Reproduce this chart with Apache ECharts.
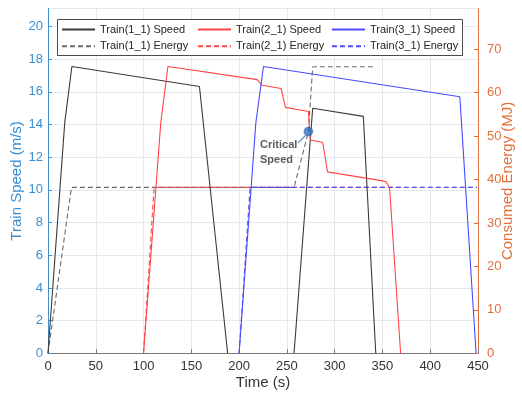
<!DOCTYPE html>
<html>
<head>
<meta charset="utf-8">
<script src="https://cdn.jsdelivr.net/npm/echarts@6/dist/echarts.min.js"></script>
<style>
  html, body { margin: 0; padding: 0; background: #fff; }
  #chart { width: 522px; height: 395px; }
</style>
</head>
<body>
<div id="chart"></div>
<script>
// Speed profiles [time (s), speed (m/s)]
const train1SpeedTrip1 = [[0, 0], [17.5, 14.1], [25, 17.55], [158.5, 16.33], [188, 0]];
const train1SpeedTrip2 = [[257.5, 0], [277, 15.0], [330, 14.5], [343, 0]];
const train2Speed = [[100, 0], [118, 14.1], [125.5, 17.55], [219, 16.75], [224, 16.4], [244, 16.2],
  [248.5, 15.05], [272.5, 14.8], [274.5, 13.05], [287.5, 12.9], [292.5, 11.1], [350.5, 10.55],
  [354, 10.5], [357.5, 10.1], [369, 0]];
const train3Speed = [[200, 0], [217.5, 14.1], [225.5, 17.55], [431, 15.7], [448, 0]];

// Cumulative energy [time (s), energy (MJ)]
const train1Energy = [[0, 0], [24.5, 38.2], [257.5, 38.2], [272.5, 51.0], [277, 66.0], [343, 66.0]];
const train2Energy = [[100, 0], [111, 38.2], [369, 38.2]];
const train3Energy = [[200, 0], [211.5, 38.2], [449, 38.2]];

// Annotated point on the speed axis
const criticalPoint = [[272.5, 13.57]];
const criticalArrow = [[261.5, 12.88], [270, 13.36]];
const criticalLabelAnchor = [[222.4, 13.18]];
const criticalLabelText = 'Critical\nSpeed';

// Axis ranges
const timeRange = [0, 450];
const speedRange = [0, 21.1];
const energyRange = [0, 79.4];

const FONT = '"Liberation Sans", Arial, sans-serif';
const BLUE_AXIS = '#3a8fd3';
const ORANGE_AXIS = '#e0703c';
const C_BLACK = '#3a3a3a';
const C_GRAY = '#6a6a6a';
const C_RED = '#ff4545';
const C_BLUE = '#4a4aff';

const seriesNames = ['Train(1_1) Speed', 'Train(2_1) Speed', 'Train(3_1) Speed',
                     'Train(1_1) Energy', 'Train(2_1) Energy', 'Train(3_1) Energy'];

function lineSeries(name, data, color, yIdx, dashed) {
  return {
    name: name, type: 'line', data: data, yAxisIndex: yIdx,
    symbol: 'none', showSymbol: false, animation: false,
    lineStyle: { color: color, width: 1.1, type: dashed ? [5, 3] : 'solid' },
    itemStyle: { color: color },
    z: 2
  };
}

const legendCols = [61, 197, 331];
const legendRows = [24, 40.7];
const legends = seriesNames.map((n, i) => ({
  data: [n],
  left: legendCols[i % 3],
  top: legendRows[Math.floor(i / 3)],
  padding: 0,
  itemWidth: 33,
  itemHeight: 14,
  selectedMode: false,
  itemStyle: { opacity: 0 },
  textStyle: { fontFamily: FONT, fontSize: 11, color: '#262626' },
  z: 6
}));

const chart = echarts.init(document.getElementById('chart'), null, { renderer: 'canvas' });

chart.setOption({
  animation: false,
  backgroundColor: '#fff',
  grid: { left: 48, right: 44, top: 8.5, bottom: 41.7, containLabel: false, outerBoundsMode: 'none' },
  legend: legends,
  graphic: [{
    type: 'rect', z: 5,
    shape: { x: 57.5, y: 19.5, width: 405, height: 36 },
    style: { fill: '#fff', stroke: '#4a4a4a', lineWidth: 1 }
  }],
  xAxis: {
    type: 'value', min: timeRange[0], max: timeRange[1], interval: 50,
    name: 'Time (s)', nameLocation: 'middle', nameGap: 22, nameMoveOverlap: false,
    nameTextStyle: { fontFamily: FONT, fontSize: 15, color: '#333' },
    axisLine: { show: true, lineStyle: { color: '#777', width: 1 } },
    axisTick: { show: true, inside: true, length: 4, lineStyle: { color: '#777' } },
    axisLabel: { fontFamily: FONT, fontSize: 13, color: '#333', margin: 7 },
    splitLine: { show: true, lineStyle: { color: '#e3e9f0', width: 1 } }
  },
  yAxis: [{
    type: 'value', min: speedRange[0], max: speedRange[1], interval: 2,
    position: 'left',
    name: 'Train Speed (m/s)', nameLocation: 'middle', nameGap: 24, nameMoveOverlap: false,
    nameTextStyle: { fontFamily: FONT, fontSize: 15, color: BLUE_AXIS },
    axisLine: { show: true, lineStyle: { color: BLUE_AXIS, width: 1 } },
    axisTick: { show: true, inside: true, length: 4, lineStyle: { color: BLUE_AXIS } },
    axisLabel: { fontFamily: FONT, fontSize: 13, color: BLUE_AXIS, margin: 5, showMaxLabel: false },
    splitLine: { show: true, lineStyle: { color: '#e3e9f0', width: 1 } }
  }, {
    type: 'value', min: energyRange[0], max: energyRange[1], interval: 10,
    position: 'right',
    name: 'Consumed Energy (MJ)', nameLocation: 'middle', nameGap: 22, nameMoveOverlap: false,
    nameTextStyle: { fontFamily: FONT, fontSize: 15, color: ORANGE_AXIS },
    axisLine: { show: true, lineStyle: { color: ORANGE_AXIS, width: 1 } },
    axisTick: { show: true, inside: true, length: 4, lineStyle: { color: ORANGE_AXIS } },
    axisLabel: { fontFamily: FONT, fontSize: 13, color: ORANGE_AXIS, margin: 9, showMaxLabel: false },
    splitLine: { show: false }
  }],
  series: [
    lineSeries(seriesNames[3], train1Energy, C_GRAY, 1, true),
    lineSeries(seriesNames[4], train2Energy, C_RED, 1, true),
    lineSeries(seriesNames[5], train3Energy, C_BLUE, 1, true),
    lineSeries(seriesNames[0], train1SpeedTrip1, C_BLACK, 0, false),
    lineSeries(seriesNames[0], train1SpeedTrip2, C_BLACK, 0, false),
    lineSeries(seriesNames[1], train2Speed, C_RED, 0, false),
    lineSeries(seriesNames[2], train3Speed, C_BLUE, 0, false),
    {
      name: 'critical', type: 'scatter', yAxisIndex: 0, data: criticalPoint,
      symbol: 'circle', symbolSize: 9, z: 4, animation: false,
      itemStyle: { color: '#2f6fc0', borderColor: '#2a5fa8', borderWidth: 0.5 },
      markLine: {
        silent: true, animation: false,
        symbol: ['none', 'arrow'], symbolSize: [0, 7],
        label: { show: false },
        lineStyle: { color: '#5b8fd0', width: 1.2, type: 'solid' },
        data: [[{ coord: criticalArrow[0] }, { coord: criticalArrow[1] }]]
      }
    },
    {
      name: 'criticalLabel', type: 'scatter', yAxisIndex: 0, data: criticalLabelAnchor,
      symbolSize: 1, itemStyle: { color: 'rgba(0,0,0,0)' }, z: 4, animation: false, silent: true,
      label: {
        show: true, position: [0, 0], align: 'left', verticalAlign: 'top',
        formatter: criticalLabelText,
        fontFamily: FONT, fontSize: 11, fontWeight: 'bold', color: '#333', lineHeight: 15
      }
    }
  ]
});
</script>
</body>
</html>
